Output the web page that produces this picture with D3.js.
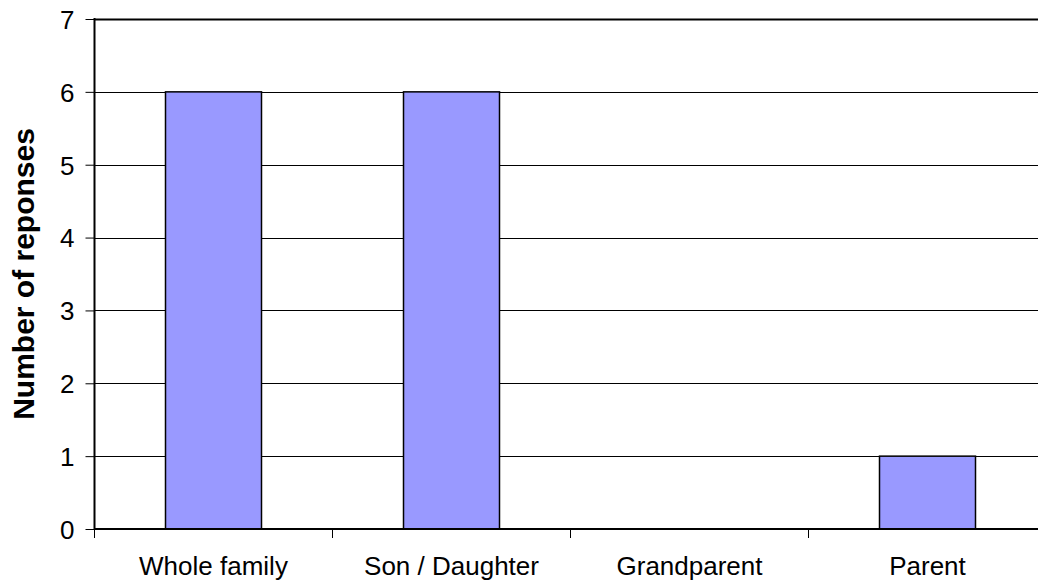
<!DOCTYPE html>
<html><head><meta charset="utf-8">
<script src="https://cdn.jsdelivr.net/npm/d3@7"></script>
<style>body{margin:0;background:#fff}svg{display:block}</style>
</head><body>
<svg id="c" width="1038" height="585"></svg>
<script>
const categories = ["Whole family", "Son / Daughter", "Grandparent", "Parent"];
const values = [6, 6, 0, 1];
const yTicks = [0, 1, 2, 3, 4, 5, 6, 7];
const yTitle = "Number of reponses";

(function () {
const svg = d3.select("#c");
const pLeft = 94.5, pTop = 19, pBottom = 529, bandW = 238;
const pRight = pLeft + bandW * categories.length;
const x = d3.scaleBand().domain(categories).range([pLeft, pRight]);
const y = d3.scaleLinear().domain([0, 7]).range([pBottom, pTop]);
const barW = 96;
const font = "Arial, 'Liberation Sans', sans-serif";

// gridlines
svg.append("g").selectAll("line").data(yTicks.filter(d => d > 0)).join("line")
  .attr("x1", pLeft).attr("x2", pRight)
  .attr("y1", d => Math.round(y(d)) + 0.5).attr("y2", d => Math.round(y(d)) + 0.5)
  .attr("stroke", "#000").attr("stroke-width", d => d === 7 ? 2 : 1);

// bars
svg.append("g").selectAll("rect").data(values.map((v, i) => ({c: categories[i], v})).filter(d => d.v > 0)).join("rect")
  .attr("x", d => x(d.c) + x.bandwidth() / 2 - barW / 2)
  .attr("width", barW)
  .attr("y", d => y(d.v))
  .attr("height", d => y(0) - y(d.v))
  .attr("fill", "#9999FF").attr("stroke", "#000").attr("stroke-width", 1.5);

// y axis
const yAxis = d3.axisLeft(y).tickValues(yTicks).tickSize(9).tickPadding(11).tickFormat(d3.format("d"));
const gy = svg.append("g").attr("transform", `translate(${pLeft},0)`).call(yAxis);
gy.select(".domain").remove();
gy.selectAll(".tick line").attr("stroke", "#000").attr("stroke-width", 1);
gy.selectAll(".tick text").attr("font-family", font).attr("font-size", 26).attr("fill", "#000").attr("dy", "0.36em");
svg.append("line").attr("x1", pLeft).attr("x2", pLeft).attr("y1", pTop - 1).attr("y2", pBottom + 1)
  .attr("stroke", "#000").attr("stroke-width", 2);

// x axis
const gx = svg.append("g").attr("transform", `translate(0,${pBottom})`);
const bounds = d3.range(categories.length + 1).map(i => pLeft + i * x.step());
gx.selectAll("line.t").data(bounds).join("line").attr("class", "t")
  .attr("x1", d => d).attr("x2", d => d).attr("y1", 0).attr("y2", 9)
  .attr("stroke", "#000").attr("stroke-width", 1);
gx.append("line").attr("x1", pLeft).attr("x2", pRight).attr("y1", 0).attr("y2", 0)
  .attr("stroke", "#000").attr("stroke-width", 2);
gx.selectAll("text.lbl").data(categories).join("text").attr("class", "lbl")
  .attr("x", d => x(d) + x.bandwidth() / 2).attr("y", 46)
  .attr("text-anchor", "middle").attr("font-family", font).attr("font-size", 26).attr("fill", "#000")
  .text(d => d);

// y title
svg.append("text").attr("transform", `translate(34,${(pTop + pBottom) / 2}) rotate(-90)`)
  .attr("text-anchor", "middle").attr("font-family", font).attr("font-weight", "bold")
  .attr("font-size", 30).attr("fill", "#000").text(yTitle);
})();
</script>
</body></html>
